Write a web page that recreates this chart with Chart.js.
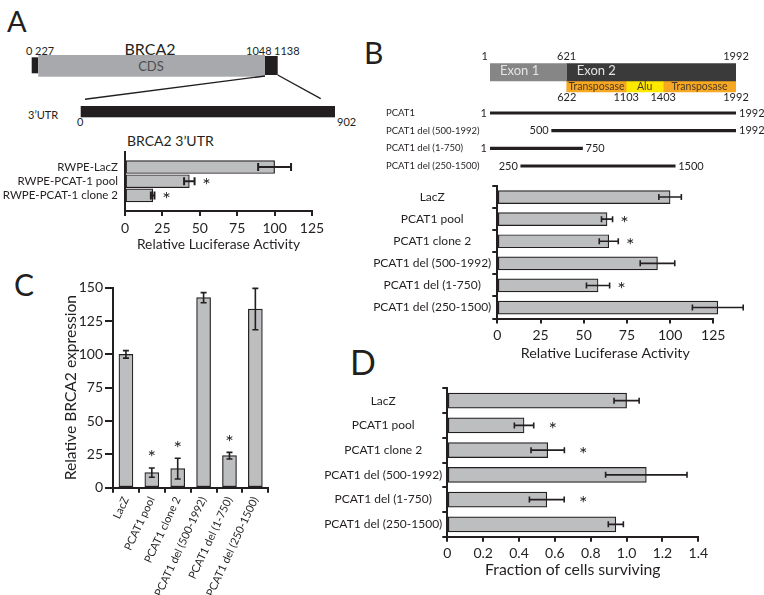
<!DOCTYPE html>
<html>
<head>
<meta charset="utf-8">
<script src="https://cdn.jsdelivr.net/npm/chart.js@4.4.1/dist/chart.umd.min.js"></script>
<style>
  body { margin: 0; background: #fff; }
  #fig { position: relative; width: 764px; height: 595px; overflow: hidden; }
  #fig canvas, #fig svg { position: absolute; }
  #art text { font-family: Lato, sans-serif; fill: #231f20; dominant-baseline: central; }
</style>
</head>
<body>
<div id="fig">
  <svg id="art" width="764" height="595" style="left:0;top:0">
    <text x="7" y="20" font-size="29">A</text>
    <text x="364" y="52" font-size="30">B</text>
    <text x="14" y="284" font-size="30">C</text>
    <text x="350" y="361" font-size="34">D</text>

    <!-- BRCA2 transcript, not drawn to scale -->
    <rect x="31.7" y="57.3" width="6.6" height="16" fill="#231f20"/>
    <rect x="38.3" y="55" width="226.7" height="21.7" fill="#a7a9ac"/>
    <rect x="265" y="56" width="12.7" height="19" fill="#231f20"/>
    <line x1="265" y1="76" x2="85" y2="99.3" stroke="#231f20" stroke-width="1.4"/>
    <line x1="277.7" y1="75" x2="320.7" y2="98.7" stroke="#231f20" stroke-width="1.4"/>
    <rect x="80.7" y="106" width="254.3" height="11.3" fill="#231f20"/>
    <text x="26" y="50" font-size="11">0</text>
    <text x="35" y="50" font-size="11">227</text>
    <text x="150" y="48" font-size="16" text-anchor="middle">BRCA2</text>
    <text x="151" y="66" font-size="13" text-anchor="middle" style="fill:#4d4d4f">CDS</text>
    <text x="246" y="50" font-size="11">1048</text>
    <text x="274" y="50" font-size="11">1138</text>
    <text x="28" y="114" font-size="11">3’UTR</text>
    <text x="77" y="121.5" font-size="11">0</text>
    <text x="337" y="121" font-size="11">902</text>
    <text x="127" y="140" font-size="14">BRCA2 3’UTR</text>
  </svg>
  <canvas id="chartA" width="340" height="118" style="left:0;top:135px"></canvas>
  <canvas id="geneB" width="304" height="110" style="left:460px;top:0"></canvas>
  <canvas id="constructB" width="384" height="80" style="left:380px;top:100px"></canvas>
  <canvas id="chartB" width="394" height="182" style="left:370px;top:180px"></canvas>
  <canvas id="chartC" width="245" height="325" style="left:55px;top:270px"></canvas>
  <canvas id="chartD" width="464" height="205" style="left:300px;top:375px"></canvas>
</div>
<script>
// panel A: BRCA2 3'UTR luciferase
const aLabels = ['RWPE-LacZ', 'RWPE-PCAT-1 pool', 'RWPE-PCAT-1 clone 2'];
const aValues = [100, 43, 18.5];
const aErrors = [11, 3.5, 1.2];
const aStars = [false, true, true];

// panel B schematic (nucleotide positions)
const exonNames = ['Exon 1', 'Exon 2'];
const exonStart = [1, 622];
const exonEnd = [621, 1992];
const repeatNames = ['Transposase', 'Alu', 'Transposase'];
const repeatStart = [622, 1103, 1403];
const repeatEnd = [1103, 1403, 1992];
const constructNames = ['PCAT1', 'PCAT1 del (500-1992)', 'PCAT1 del (1-750)', 'PCAT1 del (250-1500)'];
const constructStart = [1, 500, 1, 250];
const constructEnd = [1992, 1992, 750, 1500];

// samples shared by B, C, D
const sampleLabels = ['LacZ', 'PCAT1 pool', 'PCAT1 clone 2', 'PCAT1 del (500-1992)', 'PCAT1 del (1-750)', 'PCAT1 del (250-1500)'];
const sampleStars = [false, true, true, false, true, false];

// panel B: relative luciferase activity
const bValues = [100, 63.5, 64.5, 92.7, 58.3, 127.6];
const bErrors = [6.5, 3.2, 5.5, 10, 6.7, 14.7];

// panel C: relative BRCA2 expression
const cValues = [100, 11.3, 14.3, 142.5, 24, 134];
const cErrors = [2.8, 3.5, 7.8, 3.8, 2.5, 15.5];

// panel D: fraction of cells surviving
const dValues = [1.0, 0.428, 0.56, 1.11, 0.555, 0.94];
const dErrors = [0.07, 0.054, 0.093, 0.227, 0.097, 0.042];

const ink = '#231f20';
const barFill = '#bcbec0';
Chart.defaults.font.family = 'Lato, sans-serif';
Chart.defaults.color = ink;

const errorBars = {
  id: 'errorBars',
  afterDatasetsDraw(chart, args, opts) {
    const ctx = chart.ctx;
    const horiz = chart.options.indexAxis === 'y';
    const vScale = horiz ? chart.scales.x : chart.scales.y;
    ctx.save();
    ctx.strokeStyle = ink;
    ctx.fillStyle = ink;
    ctx.lineWidth = opts.width;
    chart.data.datasets.forEach((ds, di) => {
      const meta = chart.getDatasetMeta(di);
      meta.data.forEach((bar, i) => {
        const v = meta.controller.getParsed(i)[vScale.axis];
        const e = ds.errors[i];
        const lo = vScale.getPixelForValue(v - e);
        const hi = vScale.getPixelForValue(v + e);
        const c = horiz ? bar.y : bar.x;
        const k = opts.cap;
        ctx.beginPath();
        if (horiz) {
          ctx.moveTo(lo, c); ctx.lineTo(hi, c);
          ctx.moveTo(lo, c - k); ctx.lineTo(lo, c + k);
          ctx.moveTo(hi, c - k); ctx.lineTo(hi, c + k);
        } else {
          ctx.moveTo(c, lo); ctx.lineTo(c, hi);
          ctx.moveTo(c - k, lo); ctx.lineTo(c + k, lo);
          ctx.moveTo(c - k, hi); ctx.lineTo(c + k, hi);
        }
        ctx.stroke();
        if (ds.stars[i]) {
          ctx.font = '20px Lato';
          ctx.textAlign = 'center';
          ctx.textBaseline = 'middle';
          if (horiz) ctx.fillText('*', hi + opts.gap, c + 4);
          else ctx.fillText('*', c, hi - opts.gap + 4);
        }
      });
    });
    ctx.restore();
  }
};

// fixed axis box size, and no extra room reserved for the end labels
function fixBox(w, h) {
  return s => {
    if (w != null) s.width = w;
    if (h != null) s.height = h;
    s.paddingTop = s.paddingBottom = s.paddingLeft = s.paddingRight = 0;
  };
}

function axisStyle(tick) {
  return {
    grid: { drawOnChartArea: false, drawTicks: tick > 0, tickLength: tick, color: ink, lineWidth: 2 },
    border: { color: ink, width: 2 }
  };
}

function barSet(values, errors, stars, thickness) {
  return {
    data: values, errors: errors, stars: stars,
    backgroundColor: barFill, borderColor: ink, borderWidth: 1.2,
    borderSkipped: false, barThickness: thickness, clip: false
  };
}

const quiet = { legend: { display: false }, tooltip: { enabled: false } };

// ---- A ----
new Chart(document.getElementById('chartA'), {
  type: 'bar',
  data: { datasets: [barSet(aValues.map((v, i) => ({ x: v, y: i })), aErrors, aStars, 13)] },
  options: {
    indexAxis: 'y', responsive: false, animation: false,
    layout: { padding: { left: 0, top: 16.7, right: 28, bottom: 0 } },
    scales: {
      x: Object.assign(axisStyle(5), {
        min: 0, max: 125,
        ticks: { stepSize: 25, font: { size: 14 }, padding: 4 },
        title: { display: true, text: 'Relative Luciferase Activity', font: { size: 13.8 }, padding: 0 },
        afterFit: fixBox(null, 42)
      }),
      y: Object.assign(axisStyle(0), {
        type: 'linear', reverse: true, min: -1.08, max: 3.1, offset: false,
        afterBuildTicks: s => { s.ticks = aLabels.map((_, i) => ({ value: i })); },
        ticks: { callback: v => aLabels[v], font: { size: 11.5 }, padding: 7 },
        afterFit: fixBox(125, null)
      })
    },
    plugins: Object.assign({ errorBars: { cap: 4, gap: 12, width: 2 } }, quiet)
  },
  plugins: [errorBars]
});

// ---- B schematic ----
const geneLabels = {
  id: 'geneLabels',
  afterDatasetsDraw(chart) {
    const { ctx, scales: { x } } = chart;
    const exonBar = chart.getDatasetMeta(0).data[0];
    const repBar = chart.getDatasetMeta(exonNames.length).data[1];
    ctx.save();
    ctx.textBaseline = 'middle';
    ctx.font = '13px Lato';
    ctx.fillStyle = '#e4e4e4';
    ctx.textAlign = 'left';
    exonNames.forEach((n, i) => ctx.fillText(n, x.getPixelForValue(exonStart[i]) + 10, exonBar.y));
    ctx.font = '10.5px Lato';
    ctx.fillStyle = '#4a3a26';
    ctx.textAlign = 'center';
    repeatNames.forEach((n, i) => {
      const mid = (x.getPixelForValue(repeatStart[i]) + x.getPixelForValue(repeatEnd[i])) / 2;
      ctx.fillText(n, mid, repBar.y);
    });
    ctx.font = '11px Lato';
    ctx.fillStyle = ink;
    const topY = exonBar.y - 10 - 5;
    ctx.textAlign = 'right';
    ctx.fillText(String(exonStart[0]), x.getPixelForValue(exonStart[0]) - 2, topY);
    ctx.textAlign = 'center';
    exonEnd.forEach(v => ctx.fillText(String(v), x.getPixelForValue(v), topY));
    const botY = repBar.y + 5.5 + 5.5;
    repeatStart.concat(repeatEnd.slice(-1)).forEach(v => ctx.fillText(String(v), x.getPixelForValue(v), botY));
    ctx.restore();
  }
};

new Chart(document.getElementById('geneB'), {
  type: 'bar',
  data: {
    labels: ['exon', 'repeat'],
    datasets: exonNames.map((n, i) => ({
      label: n, data: [[exonStart[i], exonEnd[i]], null],
      backgroundColor: ['#868686', '#3a3a3a'][i], barThickness: 20, grouped: false
    })).concat(repeatNames.map((n, i) => ({
      label: n, data: [null, [repeatStart[i], repeatEnd[i]]],
      backgroundColor: ['#f7a823', '#ffe800', '#f7a823'][i], barThickness: 11, grouped: false
    })))
  },
  options: {
    indexAxis: 'y', responsive: false, animation: false,
    layout: { padding: { left: 30, right: 28, top: 63.25, bottom: 15.75 } },
    scales: { x: { display: false, min: 1, max: 1992 }, y: { display: false } },
    plugins: quiet
  },
  plugins: [geneLabels]
});

const constructEnds = {
  id: 'constructEnds',
  afterDatasetsDraw(chart) {
    const { ctx, scales: { x } } = chart;
    const meta = chart.getDatasetMeta(0);
    ctx.save();
    ctx.font = '11px Lato';
    ctx.fillStyle = ink;
    ctx.textBaseline = 'middle';
    meta.data.forEach((bar, i) => {
      ctx.textAlign = 'right';
      ctx.fillText(String(constructStart[i]), x.getPixelForValue(constructStart[i]) - 3, bar.y);
      ctx.textAlign = 'left';
      ctx.fillText(String(constructEnd[i]), x.getPixelForValue(constructEnd[i]) + 3, bar.y);
    });
    ctx.restore();
  }
};

new Chart(document.getElementById('constructB'), {
  type: 'bar',
  data: {
    labels: constructNames,
    datasets: [{ data: constructStart.map((s, i) => [s, constructEnd[i]]), backgroundColor: ink, barThickness: 2.5 }]
  },
  options: {
    indexAxis: 'y', responsive: false, animation: false,
    layout: { padding: { left: 6, right: 28, top: 4.2, bottom: 5.2 } },
    scales: {
      x: { display: false, min: 1, max: 1992 },
      y: {
        grid: { display: false }, border: { display: false },
        ticks: { crossAlign: 'far', font: { size: 9.5 }, autoSkip: false },
        afterFit: fixBox(104, null)
      }
    },
    plugins: quiet
  },
  plugins: [constructEnds]
});

// ---- B bars ----
new Chart(document.getElementById('chartB'), {
  type: 'bar',
  data: { labels: sampleLabels, datasets: [barSet(bValues, bErrors, sampleStars, 13)] },
  options: {
    indexAxis: 'y', responsive: false, animation: false,
    layout: { padding: { left: 0, top: 6, right: 50.7, bottom: 0 } },
    scales: {
      x: Object.assign(axisStyle(5), {
        min: 0, max: 125,
        ticks: { stepSize: 25, font: { size: 14 }, padding: 3 },
        title: { display: true, text: 'Relative Luciferase Activity', font: { size: 14.3 }, padding: 0 },
        afterFit: fixBox(null, 43.4)
      }),
      y: Object.assign(axisStyle(5), {
        ticks: { crossAlign: 'center', font: { size: 12 }, padding: 1, autoSkip: false },
        afterFit: fixBox(127.3, null)
      })
    },
    plugins: Object.assign({ errorBars: { cap: 3, gap: 12, width: 1.6 } }, quiet)
  },
  plugins: [errorBars]
});

// ---- C ----
new Chart(document.getElementById('chartC'), {
  type: 'bar',
  data: { labels: sampleLabels, datasets: [barSet(cValues, cErrors, sampleStars, 14)] },
  options: {
    responsive: false, animation: false,
    layout: { padding: { left: 0, top: 17.7, right: 31.7, bottom: 0 } },
    scales: {
      x: Object.assign(axisStyle(5), {
        ticks: { minRotation: 65, maxRotation: 65, font: { size: 11 }, padding: 2, autoSkip: false },
        afterFit: fixBox(null, 107.3)
      }),
      y: Object.assign(axisStyle(8), {
        min: 0, max: 150,
        ticks: { stepSize: 25, font: { size: 14 }, padding: 2 },
        title: { display: true, text: 'Relative BRCA2 expression', font: { size: 15.6 }, padding: { top: 7, bottom: 0 } },
        afterFit: fixBox(58, null)
      })
    },
    plugins: Object.assign({ errorBars: { cap: 3, gap: 14, width: 1.6 } }, quiet)
  },
  plugins: [errorBars]
});

// ---- D ----
new Chart(document.getElementById('chartD'), {
  type: 'bar',
  data: { labels: sampleLabels, datasets: [barSet(dValues, dErrors, sampleStars, 15)] },
  options: {
    indexAxis: 'y', responsive: false, animation: false,
    layout: { padding: { left: 0, top: 13.3, right: 65.7, bottom: 0.6 } },
    scales: {
      x: Object.assign(axisStyle(5), {
        min: 0, max: 1.4,
        ticks: { stepSize: 0.2, font: { size: 14 }, padding: 3, callback: v => v === 0 ? '0' : v.toFixed(1) },
        title: { display: true, text: 'Fraction of cells surviving', font: { size: 15.8 }, padding: 0 },
        afterFit: fixBox(null, 42.7)
      }),
      y: Object.assign(axisStyle(5), {
        ticks: { crossAlign: 'center', font: { size: 12 }, padding: 0, autoSkip: false },
        afterFit: fixBox(147.3, null)
      })
    },
    plugins: Object.assign({ errorBars: { cap: 3, gap: 19, width: 1.6 } }, quiet)
  },
  plugins: [errorBars]
});
</script>
</body>
</html>
